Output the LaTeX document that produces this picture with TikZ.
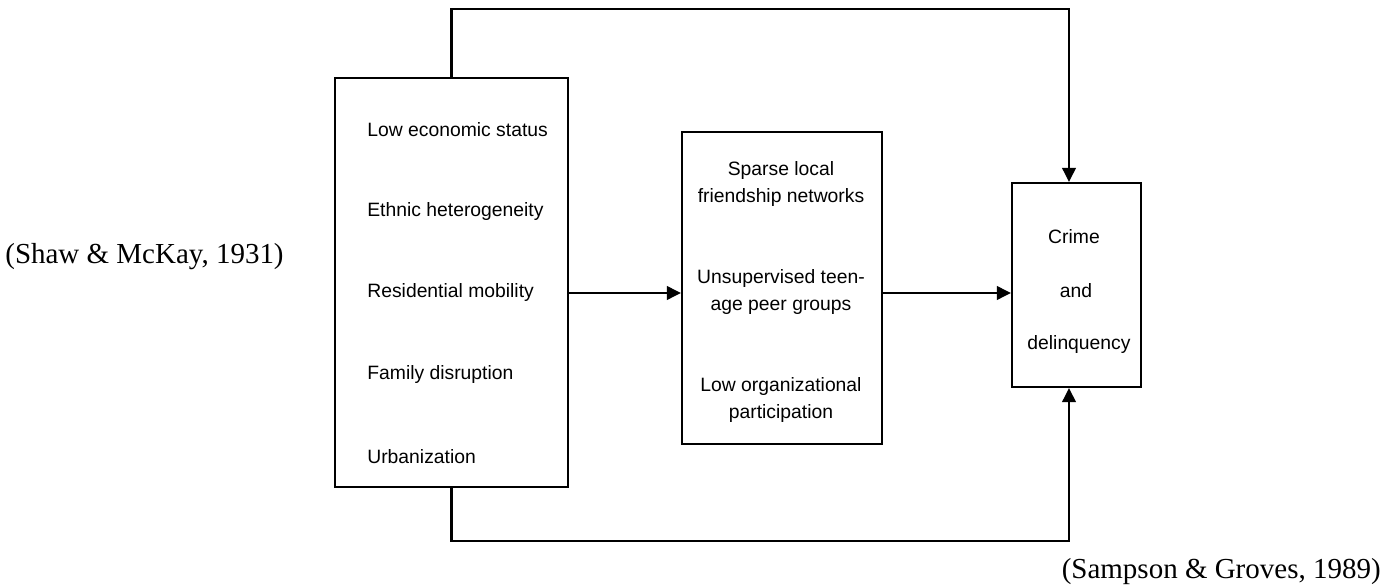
\documentclass[tikz,border=0pt]{standalone}
\usepackage{fontspec}
\setmainfont{Liberation Serif}
\setsansfont{Liberation Sans}
\usetikzlibrary{arrows.meta}
\tikzstyle{rec} = [rectangle, draw=black, line width=1.2pt, inner sep=0pt]
\tikzstyle{item} = [inner sep=0pt, font=\sffamily\fontsize{11}{15.3}\selectfont]
\tikzstyle{arrow} = [line width=1.2pt, -{Triangle[length=0.28cm,width=0.27cm]}]
\tikzstyle{cite} = [inner sep=0pt, font=\fontsize{16.5}{20}\selectfont]

\begin{document}
\begin{tikzpicture}[x=0.02cm, y=-0.02cm]
		\useasboundingbox (0,0) rectangle (1394,587);
		\node (causes) [rec, minimum width=4.66cm, minimum height=8.18cm] at (451.5,282.5) {};
		\node (control) [rec, minimum width=4cm, minimum height=6.24cm] at (782,288) {};
		\node (crime) [rec, minimum width=2.58cm, minimum height=4.08cm] at (1076.5,285) {};
		\node (status) [item, anchor=west] at (367,130) {Low economic status};
		\node (ethnic) [item, anchor=west] at (367,212) {Ethnic heterogeneity};
		\node (mobility) [item, anchor=west] at (367,293) {Residential mobility};
		\node (family) [item, anchor=west] at (367,375) {Family disruption};
		\node (urban) [item, anchor=west] at (367,457) {Urbanization};
		\node (networks) [item, align=center] at (781,184) {Sparse local\\friendship networks};
		\node (peers) [item, align=center] at (781,292) {Unsupervised teen-\\age peer groups};
		\node (particip) [item, align=center] at (781,400) {Low organizational\\participation};
		\node (crimetxt) [item] at (1074,237) {Crime};
		\node (andtxt) [item] at (1076,291) {and};
		\node (delinq) [item] at (1079,345) {delinquency};
		\node (shaw) [cite, anchor=west] at (5,257) {(Shaw \& McKay, 1931)};
		\node (sampson) [cite, anchor=east] at (1381,572) {(Sampson \& Groves, 1989)};
		\coordinate (topcorner) at (1069,9);
		\coordinate (botcorner) at (1069,541);
		\draw [arrow] (causes.east |- mobility) -- (control.west |- mobility);
		\draw [arrow] (control.east |- mobility) -- (crime.west |- mobility);
		\draw [arrow] (causes.north) |- (topcorner) -- (topcorner |- crime.north);
		\draw [arrow] (causes.south) |- (botcorner) -- (botcorner |- crime.south);
	\end{tikzpicture}
\end{document}
